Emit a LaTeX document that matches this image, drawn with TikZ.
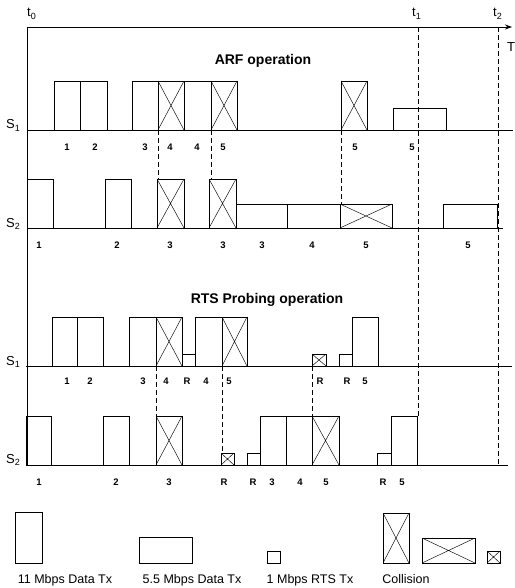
\documentclass[tikz,border=0pt]{standalone}
\usepackage{fontspec}
\setmainfont{Liberation Sans}
\usetikzlibrary{arrows.meta}
\newcommand{\mysub}[1]{\raisebox{-0.4ex}{\fontsize{9}{9}\selectfont #1}}
\begin{document}
\begin{tikzpicture}[x=1pt,y=-1pt,
  bx/.style={draw, line width=0.6pt, inner sep=0pt, outer sep=0pt, anchor=south west, minimum width=#1},
  tall/.style={bx=#1, minimum height=49pt},
  wide/.style={bx=#1, minimum height=23pt},
  small/.style={bx=#1, minimum height=12pt},
  xcross/.style={path picture={\draw[line width=0.45pt] (path picture bounding box.north west)--(path picture bounding box.south east) (path picture bounding box.north east)--(path picture bounding box.south west);}},
  lab/.style={anchor=base, font=\fontsize{9.5}{10}\selectfont\bfseries, inner sep=0pt},
  slab/.style={anchor=base west, font=\fontsize{13}{14}\selectfont, inner sep=0pt},
  tlab/.style={anchor=base west, font=\fontsize{13}{14}\selectfont, inner sep=0pt},
  ttl/.style={anchor=base, font=\fontsize{14}{16}\selectfont\bfseries, inner sep=0pt},
  leg/.style={anchor=base, font=\fontsize{12.5}{14}\selectfont, inner sep=0pt},
  dsh/.style={line width=0.6pt, dash pattern=on 5pt off 3pt},
  base/.style={line width=0.8pt}]
\useasboundingbox (0,0) rectangle (514,588);

% time axis
\coordinate (o) at (27,27);
\coordinate (tend) at (512,27);
\coordinate (obot) at (27,465);
\draw[line width=0.8pt, -{Stealth[length=7pt,width=5pt]}] (o) -- (tend);
\draw[line width=0.7pt] (o) -- (obot);
\node[tlab] (t0) at (27,17) {t\mysub{0}};
\node[tlab] (t1l) at (412,17) {t\mysub{1}};
\node[tlab] (t2l) at (493,17) {t\mysub{2}};
\node[tlab] (T) at (507,52) {T};
\coordinate (t1) at (418,27);
\coordinate (t2) at (498,27);

% titles
\node[ttl] (arf) at (263,65) {ARF operation};
\node[ttl] (rts) at (267,303) {RTS Probing operation};

% row labels
\node[slab] (s1a) at (6,129) {S\mysub{1}};
\node[slab] (s2a) at (6,227) {S\mysub{2}};
\node[slab] (s1b) at (6,365) {S\mysub{1}};
\node[slab] (s2b) at (6,463) {S\mysub{2}};

% baselines
\coordinate (ba1) at (28,130); \coordinate (ba2) at (513,130);
\coordinate (bb1) at (27,228); \coordinate (bb2) at (503,228);
\coordinate (bc1) at (26,366); \coordinate (bc2) at (512,366);
\coordinate (bd1) at (26,465); \coordinate (bd2) at (508,465);
\draw[base] (ba1) -- (ba2);
\draw[base] (bb1) -- (bb2);
\draw[base] (bc1) -- (bc2);
\draw[base] (bd1) -- (bd2);

% ARF S1
\node[tall=26pt] (a1) at (54,130) {};
\node[tall=27pt] (a2) at (80,130) {};
\node[tall=26pt] (a3) at (132,130) {};
\node[tall=26pt, xcross] (a4x) at (158,130) {};
\node[tall=27pt] (a4) at (184,130) {};
\node[tall=26pt, xcross] (a5x) at (211,130) {};
\node[tall=26pt, xcross] (a5xb) at (341,130) {};
\node[bx=53pt, minimum height=22pt] (a5w) at (393,130) {};
\node[lab] (la1) at (67,151) {1};
\node[lab] (la2) at (95,151) {2};
\node[lab] (la3) at (145,151) {3};
\node[lab] (la4) at (170,151) {4};
\node[lab] (la5) at (197,151) {4};
\node[lab] (la6) at (223,151) {5};
\node[lab] (la7) at (355,151) {5};
\node[lab] (la8) at (412,151) {5};

% ARF S2
\node[tall=26pt] (b1) at (27,228) {};
\node[tall=26pt] (b2) at (105,228) {};
\node[tall=27pt, xcross] (b3x) at (157,228) {};
\node[tall=27pt, xcross] (b3xb) at (209,228) {};
\node[bx=51pt, minimum height=24pt] (b3w) at (236,228) {};
\node[bx=53pt, minimum height=24pt] (b4w) at (287,228) {};
\node[bx=52pt, minimum height=24pt, xcross] (b5xw) at (340,228) {};
\node[bx=54pt, minimum height=24pt] (b5w) at (443,228) {};
\node[lab] (lb1) at (39,248) {1};
\node[lab] (lb2) at (117,248) {2};
\node[lab] (lb3) at (170,248) {3};
\node[lab] (lb4) at (223,248) {3};
\node[lab] (lb5) at (262,248) {3};
\node[lab] (lb6) at (312,248) {4};
\node[lab] (lb7) at (366,248) {5};
\node[lab] (lb8) at (468,248) {5};

% RTS S1
\node[tall=25pt] (c1) at (52,366) {};
\node[tall=26pt] (c2) at (77,366) {};
\node[tall=27pt] (c3) at (129,366) {};
\node[tall=26pt, xcross] (c4x) at (156,366) {};
\node[small=13pt] (cr1) at (182,366) {};
\node[tall=27pt] (c4) at (195,366) {};
\node[tall=25pt, xcross] (c5x) at (222,366) {};
\node[small=14pt, xcross] (crx) at (312,366) {};
\node[small=13pt] (cr2) at (339,366) {};
\node[tall=26pt] (c5) at (352,366) {};
\node[lab] (lc1) at (67,384) {1};
\node[lab] (lc2) at (90,384) {2};
\node[lab] (lc3) at (143,384) {3};
\node[lab] (lc4) at (166,384) {4};
\node[lab] (lc5) at (187,384) {R};
\node[lab] (lc6) at (206,384) {4};
\node[lab] (lc7) at (229,384) {5};
\node[lab] (lc8) at (320,384) {R};
\node[lab] (lc9) at (347,384) {R};
\node[lab] (lc10) at (365,384) {5};

% RTS S2
\node[tall=25pt] (d1) at (26,465) {};
\node[tall=26pt] (d2) at (103,465) {};
\node[tall=26pt, xcross] (d3x) at (156,465) {};
\node[small=13pt, xcross] (drx) at (221,465) {};
\node[small=13pt] (dr1) at (247,465) {};
\node[tall=26pt] (d3) at (260,465) {};
\node[tall=26pt] (d4) at (286,465) {};
\node[tall=27pt, xcross] (d5x) at (312,465) {};
\node[small=14pt] (dr2) at (377,465) {};
\node[tall=26pt] (d5) at (391,465) {};
\node[lab] (ld1) at (39,485) {1};
\node[lab] (ld2) at (116,485) {2};
\node[lab] (ld3) at (169,485) {3};
\node[lab] (ld4) at (224,485) {R};
\node[lab] (ld5) at (253,485) {R};
\node[lab] (ld6) at (272,485) {3};
\node[lab] (ld7) at (300,485) {4};
\node[lab] (ld8) at (326,485) {5};
\node[lab] (ld9) at (383,485) {R};
\node[lab] (ld10) at (402,485) {5};

% dashed connectors
\draw[dsh] (t1) -- (t1 |- d5.north);
\draw[dsh] (t2) -- (t2 |- bd2);
\draw[dsh] (a4x.south west) -- (a4x.south west |- b3x.north);
\draw[dsh] (a5x.south west) -- (a5x.south west |- b3xb.north);
\draw[dsh] (a5xb.south west) -- (a5xb.south west |- b5xw.north);
\draw[dsh] (c4x.south west) -- (c4x.south west |- d3x.north);
\draw[dsh] (c5x.south west) -- (c5x.south west |- drx.north);
\draw[dsh] (crx.south west) -- (crx.south west |- d5x.north);

% legend
\node[bx=27pt, minimum height=51pt] (g1) at (15,563) {};
\node[bx=53pt, minimum height=26pt] (g2) at (139,563) {};
\node[bx=13pt, minimum height=12pt] (g3) at (267,563) {};
\node[bx=26pt, minimum height=50pt, xcross] (g4) at (383,563) {};
\node[bx=53pt, minimum height=25pt, xcross] (g5) at (422,563) {};
\node[bx=13pt, minimum height=12pt, xcross] (g6) at (487,563) {};
\node[leg] (lg1) at (65,583) {11 Mbps Data Tx};
\node[leg] (lg2) at (192,583) {5.5 Mbps Data Tx};
\node[leg] (lg3) at (310,583) {1 Mbps RTS Tx};
\node[leg] (lg4) at (406,583) {Collision};
\end{tikzpicture}
\end{document}
